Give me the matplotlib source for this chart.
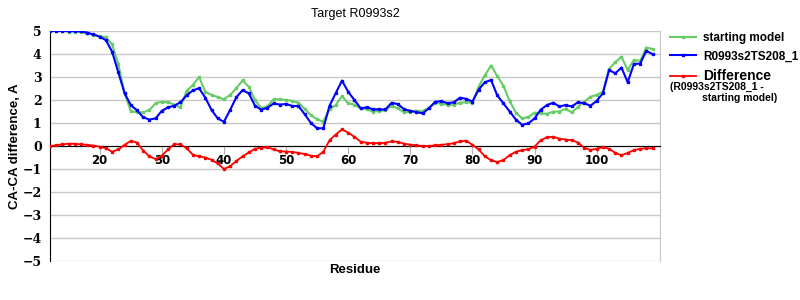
import numpy as np
import matplotlib
matplotlib.use("Agg")
import matplotlib.pyplot as plt

# residue numbers along the x axis
residues = list(range(12, 110))

# CA-CA difference, starting model
starting_model = [
    5.0, 5.0, 5.0, 4.97, 4.97, 4.95, 4.9, 4.82, 4.78, 4.72,
    4.42, 3.55, 2.3, 1.52, 1.47, 1.46, 1.57, 1.86, 1.92, 1.9,
    1.8, 1.68, 2.4, 2.65, 3.0, 2.36, 2.22, 2.13, 2.03, 2.22,
    2.51, 2.85, 2.58, 2.0, 1.65, 1.72, 2.03, 2.03, 2.0, 1.96,
    1.88, 1.62, 1.34, 1.16, 1.06, 1.6, 1.78, 2.17, 1.86, 1.8,
    1.64, 1.59, 1.5, 1.52, 1.55, 1.74, 1.64, 1.46, 1.5, 1.53,
    1.52, 1.65, 1.88, 1.84, 1.78, 1.8, 1.88, 1.9, 1.88, 2.58,
    3.07, 3.5, 3.04, 2.62, 1.95, 1.45, 1.2, 1.26, 1.45, 1.42,
    1.4, 1.49, 1.5, 1.62, 1.46, 1.7, 1.93, 2.14, 2.22, 2.36,
    3.35, 3.64, 3.88, 3.3, 3.74, 3.7, 4.28, 4.22,
]

# CA-CA difference, model R0993s2TS208_1
model_208 = [
    5.0, 5.0, 5.0, 5.0, 5.0, 4.98, 4.93, 4.85, 4.75, 4.6,
    4.1, 3.2, 2.3, 1.78, 1.55, 1.25, 1.15, 1.2, 1.53, 1.68,
    1.75, 1.9, 2.2, 2.42, 2.51, 2.1, 1.57, 1.2, 1.05, 1.57,
    2.12, 2.43, 2.29, 1.75, 1.58, 1.66, 1.85, 1.8, 1.83, 1.74,
    1.74, 1.38, 1.0, 0.77, 0.77, 1.75, 2.3, 2.84, 2.36, 2.0,
    1.64, 1.68, 1.6, 1.59, 1.59, 1.88, 1.82, 1.6, 1.53, 1.47,
    1.42, 1.64, 1.92, 1.95, 1.86, 1.9, 2.1, 2.05, 1.93, 2.45,
    2.77, 2.87, 2.2, 1.85, 1.5, 1.15, 0.92, 0.98, 1.2, 1.58,
    1.78, 1.88, 1.72, 1.78, 1.72, 1.9, 1.86, 1.75, 1.96, 2.29,
    3.3, 3.16, 3.41, 2.77, 3.57, 3.58, 4.14, 3.99,
]

# red curve as drawn in the chart
difference = [
    0.0, 0.03, 0.07, 0.1, 0.1, 0.07, 0.05, 0.02, -0.03, -0.1,
    -0.25, -0.15, 0.05, 0.22, 0.15, -0.2, -0.45, -0.57, -0.42, -0.15,
    0.08, 0.07, -0.1, -0.38, -0.45, -0.5, -0.6, -0.76, -1.0, -0.88,
    -0.65, -0.45, -0.28, -0.12, -0.07, -0.05, -0.15, -0.23, -0.24, -0.26,
    -0.3, -0.35, -0.42, -0.45, -0.25, 0.25, 0.5, 0.72, 0.58, 0.4,
    0.19, 0.14, 0.12, 0.12, 0.14, 0.2, 0.18, 0.1, 0.06, 0.03,
    0.0, 0.0, 0.03, 0.05, 0.08, 0.12, 0.2, 0.23, 0.05, -0.15,
    -0.45, -0.62, -0.7, -0.61, -0.4, -0.25, -0.18, -0.14, -0.03, 0.25,
    0.38, 0.4, 0.32, 0.28, 0.25, 0.15, -0.08, -0.17, -0.12, -0.05,
    -0.12, -0.3, -0.4, -0.3, -0.18, -0.12, -0.1, -0.1,
]

x_ticks = [20, 30, 40, 50, 60, 70, 80, 90, 100]
y_ticks = [-5, -4, -3, -2, -1, 0, 1, 2, 3, 4, 5]

fig = plt.figure(figsize=(8, 3), dpi=100)
ax = fig.add_axes([50 / 800, 1 - 261 / 300, 610 / 800, 230 / 300])

ax.plot(residues, starting_model, color="#66cc66", lw=1.5, marker="s", ms=1.8,
        label="starting model", zorder=3)
ax.plot(residues, model_208, color="#0000ff", lw=1.5, marker="s", ms=1.8,
        label="R0993s2TS208_1", zorder=4)
ax.plot(residues, difference, color="#ff0000", lw=1.3, marker="s", ms=1.6,
        label="Difference", zorder=5)

ax.set_xlim(12, 110.2)
ax.set_ylim(-5, 5)
ax.set_xticks(x_ticks)
ax.set_yticks(y_ticks)
ax.yaxis.grid(True, color="#c8c8c8", lw=1)
ax.set_axisbelow(True)

# x axis sits on the zero line, like the original
ax.spines["bottom"].set_position(("data", 0))
ax.spines["bottom"].set_color("black")
ax.spines["left"].set_color("black")
ax.spines["right"].set_color("#c8c8c8")
ax.spines["top"].set_visible(False)
ax.tick_params(axis="x", direction="out", length=6, color="#b0b0b0", pad=0)
ax.tick_params(axis="y", length=0, pad=6)

for lab in ax.get_xticklabels():
    lab.set_fontfamily("DejaVu Sans")
    lab.set_fontweight("bold")
    lab.set_fontsize(8.5)
for lab in ax.get_yticklabels():
    lab.set_fontfamily("DejaVu Serif")
    lab.set_fontweight("bold")
    lab.set_fontsize(9)

ax.set_ylabel("CA-CA difference, A", fontfamily="Liberation Sans",
              fontweight="bold", fontsize=9.5)
ax.yaxis.set_label_coords(-29 / 610, 0.5)
fig.text(355 / 800, 1 - 270 / 300, "Residue", ha="center", va="center",
         fontfamily="Liberation Sans", fontweight="bold", fontsize=9.5)
fig.text(355 / 800, 1 - 14 / 300, "Target R0993s2", ha="center", va="center",
         fontfamily="Liberation Sans", fontsize=9)

leg = fig.legend(loc="upper left", bbox_to_anchor=(664 / 800, 1 - 26 / 300),
                 frameon=False, handlelength=2.2, handletextpad=0.6,
                 labelspacing=0.55, borderpad=0,
                 prop={"family": "Liberation Sans", "weight": "bold", "size": 8.5})
leg.get_texts()[2].set_fontsize(10)
fig.text(670 / 800, 1 - 87 / 300, "(R0993s2TS208_1 -", ha="left", va="center",
         fontfamily="Liberation Sans", fontweight="bold", fontsize=7.5)
fig.text(702 / 800, 1 - 98 / 300, "starting model)", ha="left", va="center",
         fontfamily="Liberation Sans", fontweight="bold", fontsize=7.5)

fig.savefig("out.png", dpi=100)
